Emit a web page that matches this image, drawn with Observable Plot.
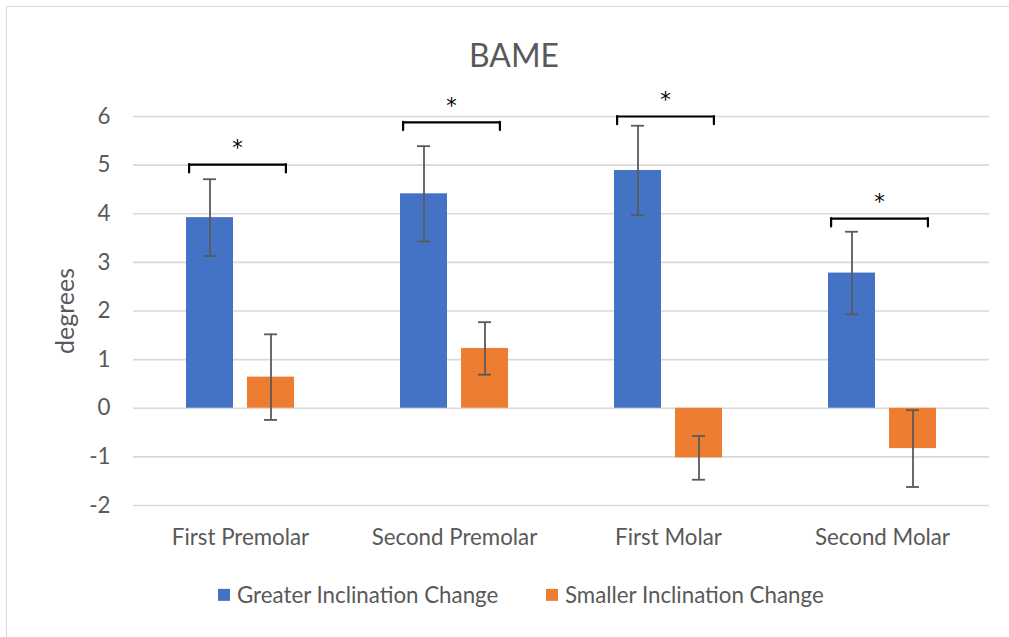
<!DOCTYPE html>
<html>
<head>
<meta charset="utf-8">
<script src="https://cdn.jsdelivr.net/npm/d3@7"></script>
<script src="https://cdn.jsdelivr.net/npm/@observablehq/plot@0.6"></script>
<style>
  html, body { margin: 0; padding: 0; background: #fff; }
  #wrap { position: relative; width: 1009px; height: 637px; overflow: hidden; background: #fff; font-family: Lato, sans-serif; color: #595959; }
  #border { position: absolute; left: 6px; top: 6px; right: -20px; bottom: -20px; border-top: 1.5px solid #d9d9d9; border-left: 1.5px solid #d9d9d9; }
  #title { position: absolute; white-space: nowrap; line-height: 1; }
  #ylabel { position: absolute; white-space: nowrap; line-height: 1; }
  #chart { position: absolute; left: 0; top: 80px; }
  .legend-item { position: absolute; display: flex; align-items: center; white-space: nowrap; line-height: 1; }
  .swatch { display: inline-block; width: 12px; height: 12px; margin-right: 7px; }
</style>
</head>
<body>
<div id="wrap">
  <div id="border"></div>
  <div id="title"></div>
  <div id="ylabel"></div>
  <div id="chart"></div>
  <div id="legend"></div>
</div>
<script>
// ---- data ----
const chartTitle = "BAME";
const yAxisLabel = "degrees";
const categories = ["First Premolar", "Second Premolar", "First Molar", "Second Molar"];
const series = ["Greater Inclination Change", "Smaller Inclination Change"];
const greaterMeans = [3.92, 4.41, 4.89, 2.78];
const greaterErrors = [0.79, 0.98, 0.92, 0.85];
const smallerMeans = [0.64, 1.23, -1.02, -0.83];
const smallerErrors = [0.88, 0.54, 0.45, 0.79];
const bracketLevels = [5.01, 5.88, 6.0, 3.9];
const starLevels = [5.45, 6.32, 6.44, 4.35];
const starText = "*";
const yTicks = [-2, -1, 0, 1, 2, 3, 4, 5, 6];
const seriesColors = ["#4472C4", "#ED7D31"];

// ---- font sizing (match reference text widths) ----
const ctx = document.createElement("canvas").getContext("2d");
function fit(text, target, family = "Lato") {
  ctx.font = `100px ${family}`;
  return 100 * target / ctx.measureText(text).width;
}
const labelSize = fit("Greater Inclination Change", 262);
const titleSize = fit("BAME", 90);
const ylabelSize = fit("degrees", 86);

// ---- table ----
const rows = categories.flatMap((c, i) => [
  {category: c, series: series[0], value: greaterMeans[i], err: greaterErrors[i]},
  {category: c, series: series[1], value: smallerMeans[i], err: smallerErrors[i]}
]);
const annotations = categories.map((c, i) => ({category: c, bracket: bracketLevels[i], star: starLevels[i]}));

const bracketDrop = 0.17;

const chart = Plot.plot({
  width: 1009,
  height: 480,
  marginTop: 36,
  marginBottom: 55,
  marginLeft: 131,
  marginRight: 19,
  style: {fontFamily: "Lato, sans-serif", fontSize: `${labelSize}px`, color: "#595959", background: "transparent", overflow: "visible"},
  fx: {domain: categories, padding: 0, label: null, tickSize: 0, tickPadding: 39 - 0.71 * labelSize, axis: "bottom"},
  x: {domain: series, paddingInner: 0.226, paddingOuter: 0.845, axis: null},
  y: {domain: [-2, 6], ticks: yTicks, tickSize: 0, tickPadding: 23, label: null, tickFormat: d => d < 0 ? "-" + Math.abs(d) : String(d)},
  color: {domain: series, range: seriesColors},
  marks: [
    Plot.ruleY(yTicks, {stroke: "#d9d9d9", strokeWidth: 1.6}),
    Plot.barY(rows, {fx: "category", x: "series", y: "value", fill: "series"}),
    Plot.ruleX(rows, {fx: "category", x: "series", y1: d => d.value - d.err, y2: d => d.value + d.err, stroke: "#5a5a5a", strokeWidth: 1.8}),
    Plot.tickY(rows, {fx: "category", x: "series", y: d => d.value + d.err, insetLeft: 17, insetRight: 17, stroke: "#5a5a5a", strokeWidth: 1.8}),
    Plot.tickY(rows, {fx: "category", x: "series", y: d => d.value - d.err, insetLeft: 17, insetRight: 17, stroke: "#5a5a5a", strokeWidth: 1.8}),
    Plot.ruleY(annotations, {fx: "category", y: "bracket", insetLeft: 56, insetRight: 62, stroke: "#000", strokeWidth: 2.2, strokeLinecap: "round"}),
    Plot.ruleX(annotations, {fx: "category", x: null, y1: "bracket", y2: d => d.bracket - bracketDrop, dx: -51.4, stroke: "#000", strokeWidth: 2.2, strokeLinecap: "round"}),
    Plot.ruleX(annotations, {fx: "category", x: null, y1: "bracket", y2: d => d.bracket - bracketDrop, dx: 45.4, stroke: "#000", strokeWidth: 2.2, strokeLinecap: "round"}),
    Plot.text(annotations, {fx: "category", y: "star", text: () => starText, dx: -3, dy: 5.5, fill: "#000", fontSize: 21, fontFamily: "DejaVu Sans, sans-serif"})
  ]
});
document.getElementById("chart").appendChild(chart);

// ---- title ----
const title = document.getElementById("title");
title.textContent = chartTitle;
title.style.fontSize = `${titleSize}px`;
title.style.left = "514px";
title.style.top = `${67 - 0.887 * titleSize}px`;
title.style.transform = "translateX(-50%)";

// ---- y label ----
const yl = document.getElementById("ylabel");
yl.textContent = yAxisLabel;
yl.style.fontSize = `${ylabelSize}px`;
yl.style.left = "63.5px";
yl.style.top = "310.5px";
yl.style.transform = "translate(-50%, -50%) rotate(-90deg)";

// ---- legend ----
const legend = document.getElementById("legend");
const legendX = [218, 546];
series.forEach((s, i) => {
  const item = document.createElement("div");
  item.className = "legend-item";
  item.style.left = `${legendX[i]}px`;
  item.style.top = "595px";
  item.style.transform = "translateY(-50%)";
  item.style.fontSize = `${labelSize}px`;
  const sw = document.createElement("span");
  sw.className = "swatch";
  sw.style.background = seriesColors[i];
  const tx = document.createElement("span");
  tx.textContent = s;
  item.appendChild(sw);
  item.appendChild(tx);
  legend.appendChild(item);
});
</script>
</body>
</html>
